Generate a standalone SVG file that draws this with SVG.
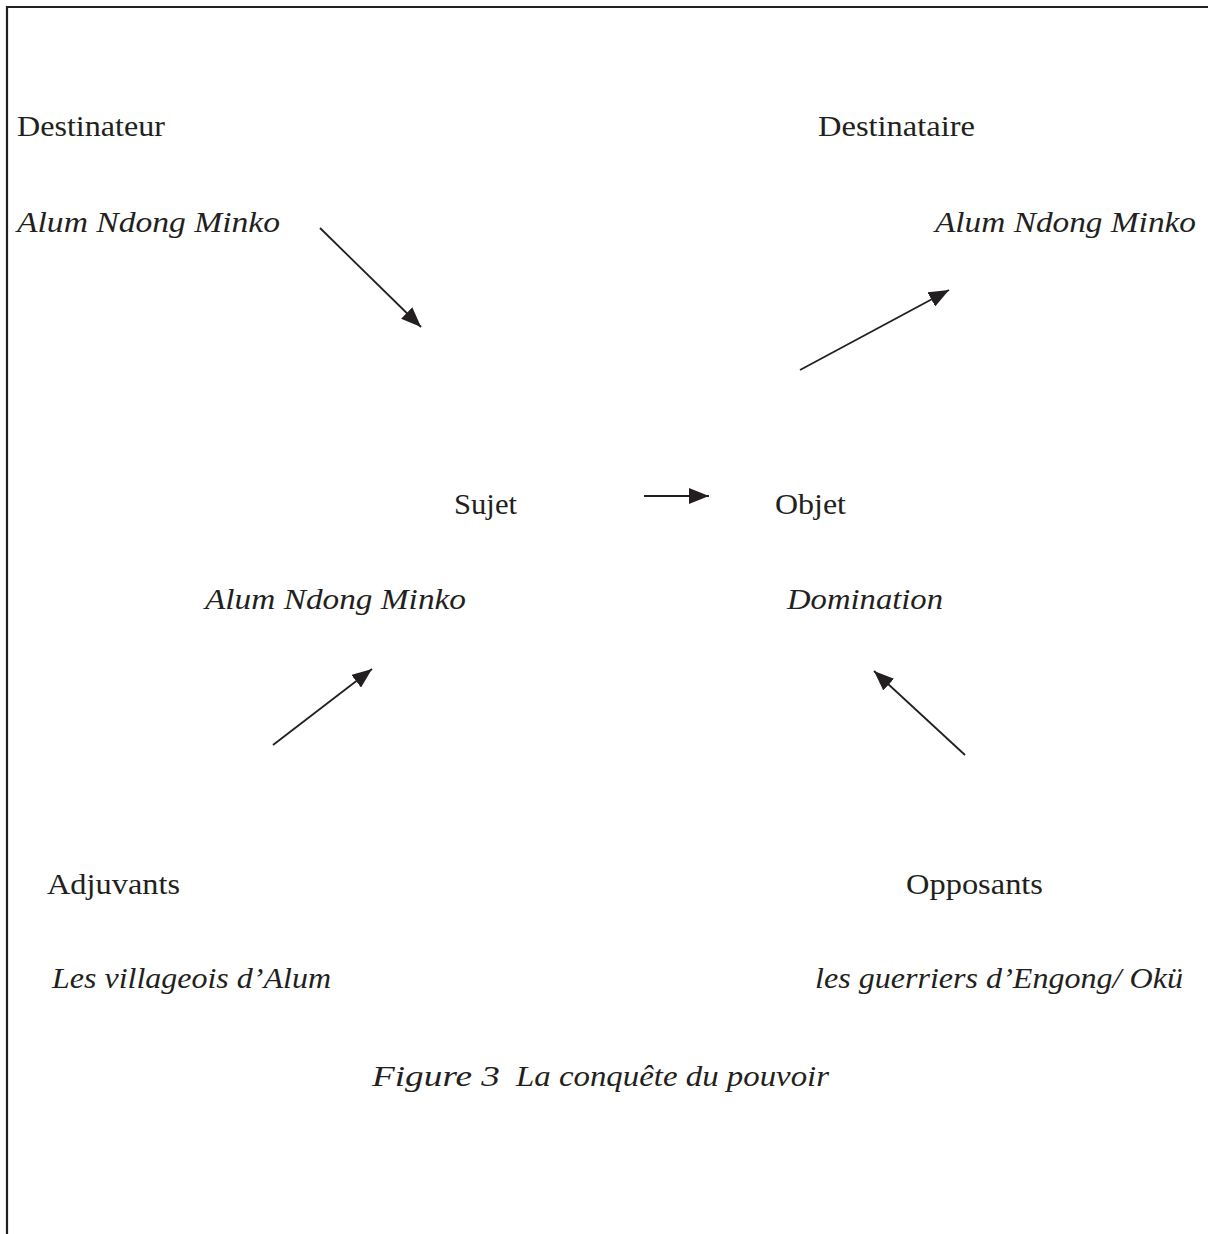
<svg xmlns="http://www.w3.org/2000/svg" width="1208" height="1234" viewBox="0 0 1208 1234">
<style>
.t{font-family:"Liberation Serif","DejaVu Serif",serif;font-size:30px;fill:#231f20}
.i{font-style:italic}
.c{stroke:#231f20;stroke-width:1.8;fill:none}
.b{stroke:#231f20;stroke-width:2.2;fill:none}
</style>
<defs>
<marker id="a" viewBox="0 0 20 16" refX="20" refY="8" markerWidth="20" markerHeight="16" markerUnits="userSpaceOnUse" orient="auto">
<path d="M0,0 L20,8 L0,16 z" fill="#231f20"/>
</marker>
</defs>
<rect width="1208" height="1234" fill="#fff"/>
<path class="b" d="M7,1234 V7 H1208"/>
<g id="destinateur"><text class="t" x="17" y="136" textLength="148" lengthAdjust="spacingAndGlyphs">Destinateur</text><text class="t i" x="17" y="232" textLength="263" lengthAdjust="spacingAndGlyphs">Alum Ndong Minko</text></g>
<g id="destinataire"><text class="t" x="818" y="136" textLength="157" lengthAdjust="spacingAndGlyphs">Destinataire</text><text class="t i" x="935" y="232" textLength="261" lengthAdjust="spacingAndGlyphs">Alum Ndong Minko</text></g>
<g id="sujet"><text class="t" x="454" y="514" textLength="63" lengthAdjust="spacingAndGlyphs">Sujet</text><text class="t i" x="205" y="609" textLength="261" lengthAdjust="spacingAndGlyphs">Alum Ndong Minko</text></g>
<g id="objet"><text class="t" x="775" y="514" textLength="71" lengthAdjust="spacingAndGlyphs">Objet</text><text class="t i" x="787" y="609" textLength="156" lengthAdjust="spacingAndGlyphs">Domination</text></g>
<g id="adjuvants"><text class="t" x="47" y="894" textLength="133" lengthAdjust="spacingAndGlyphs">Adjuvants</text><text class="t i" x="52" y="988" textLength="279" lengthAdjust="spacingAndGlyphs">Les villageois d’Alum</text></g>
<g id="opposants"><text class="t" x="906" y="894" textLength="137" lengthAdjust="spacingAndGlyphs">Opposants</text><text class="t i" x="815" y="988" textLength="368" lengthAdjust="spacingAndGlyphs">les guerriers d’Engong/ Okü</text></g>
<g id="caption"><text class="t i" x="372" y="1086" textLength="128" lengthAdjust="spacingAndGlyphs">Figure 3</text><text class="t i" x="516" y="1086" textLength="313" lengthAdjust="spacingAndGlyphs">La conquête du pouvoir</text></g>
<g id="connectors">
<line class="c" x1="320" y1="228" x2="421" y2="327" marker-end="url(#a)"/>
<line class="c" x1="800" y1="370" x2="949" y2="290" marker-end="url(#a)"/>
<line class="c" x1="644" y1="496" x2="709" y2="496" marker-end="url(#a)"/>
<line class="c" x1="273" y1="745" x2="372" y2="669" marker-end="url(#a)"/>
<line class="c" x1="965" y1="755" x2="874" y2="671" marker-end="url(#a)"/>
</g>
</svg>
